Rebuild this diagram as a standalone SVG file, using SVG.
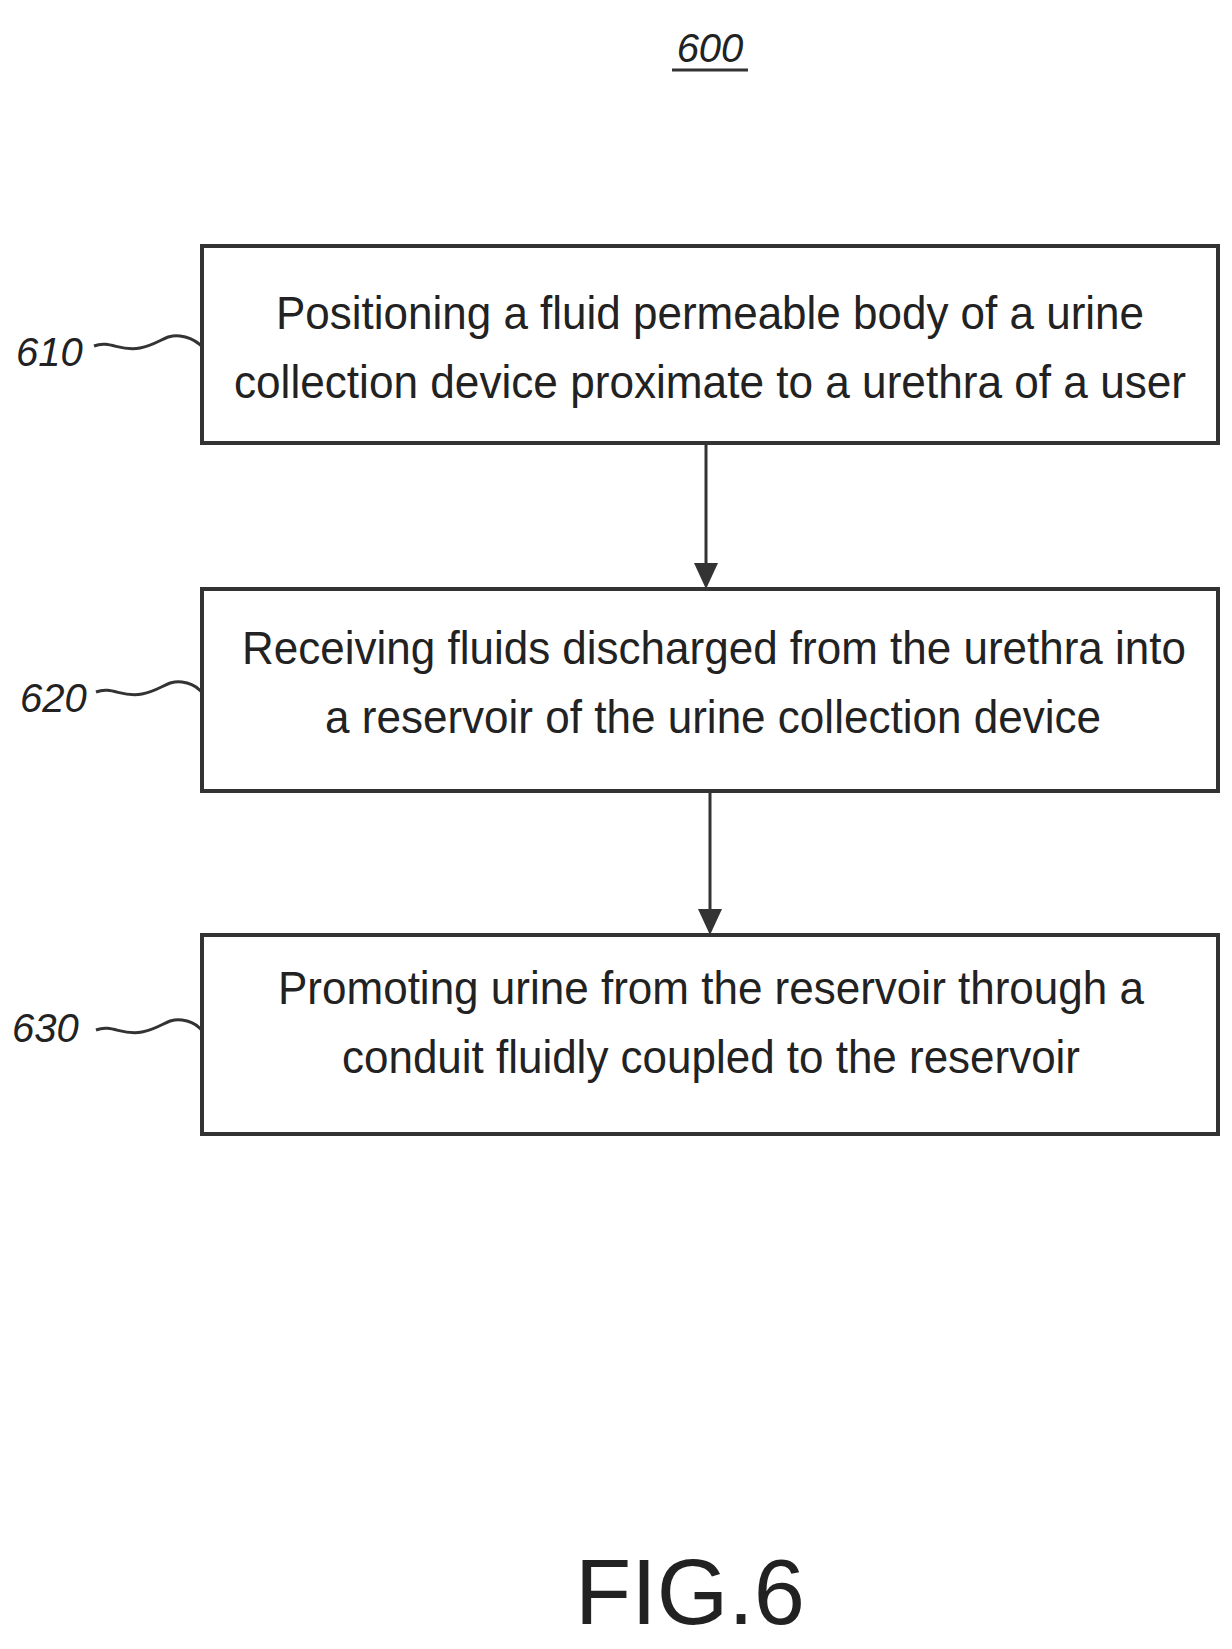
<svg xmlns="http://www.w3.org/2000/svg" width="1232" height="1649" viewBox="0 0 1232 1649">
<style>
.box{fill:#fff;stroke:#333;stroke-width:4}
.t{font-family:"Liberation Sans",Arial,sans-serif;font-size:46px;fill:#222}
.lbl{font-family:"Liberation Sans",Arial,sans-serif;font-size:40px;font-style:italic;fill:#222}
.sq{fill:none;stroke:#333;stroke-width:3}
.c{stroke:#333;stroke-width:3;fill:none}
</style>
<rect width="1232" height="1649" fill="#fff"/>
<text class="lbl" x="710" y="62" text-anchor="middle">600</text>
<line x1="672" y1="70" x2="748" y2="70" stroke="#333" stroke-width="3"/>
<g id="n610"><rect class="box" x="202" y="246" width="1016" height="197"/>
<text class="t" x="710" y="329" text-anchor="middle" textLength="868" lengthAdjust="spacingAndGlyphs">Positioning a fluid permeable body of a urine</text>
<text class="t" x="710" y="398" text-anchor="middle" textLength="952" lengthAdjust="spacingAndGlyphs">collection device proximate to a urethra of a user</text></g>
<g id="n620"><rect class="box" x="202" y="589" width="1016" height="202"/>
<text class="t" x="714" y="664" text-anchor="middle" textLength="944" lengthAdjust="spacingAndGlyphs">Receiving fluids discharged from the urethra into</text>
<text class="t" x="713" y="733" text-anchor="middle" textLength="776" lengthAdjust="spacingAndGlyphs">a reservoir of the urine collection device</text></g>
<g id="n630"><rect class="box" x="202" y="935" width="1016" height="199"/>
<text class="t" x="711" y="1004" text-anchor="middle" textLength="866" lengthAdjust="spacingAndGlyphs">Promoting urine from the reservoir through a</text>
<text class="t" x="711" y="1073" text-anchor="middle" textLength="738" lengthAdjust="spacingAndGlyphs">conduit fluidly coupled to the reservoir</text></g>
<g id="labels">
<text class="lbl" x="16" y="366">610</text>
<path class="sq" d="M94,346 C110,340 120,352 140,348 C160,344 165,334 180,336 C195,338 198,344 202,346"/>
<text class="lbl" x="20" y="712">620</text>
<path class="sq" d="M96,692 C112,686 122,698 142,694 C162,690 167,680 182,682 C197,684 198,690 202,692"/>
<text class="lbl" x="12" y="1042">630</text>
<path class="sq" d="M96,1030 C112,1024 122,1036 142,1032 C162,1028 167,1018 182,1020 C197,1022 198,1028 202,1030"/>
</g>
<g id="connectors">
<line class="c" x1="706" y1="443" x2="706" y2="565"/><path d="M694,563 L718,563 L706,589 Z" fill="#333"/>
<line class="c" x1="710" y1="791" x2="710" y2="911"/><path d="M698,909 L722,909 L710,935 Z" fill="#333"/>
</g>
<text x="690" y="1624" text-anchor="middle" font-family="Liberation Sans,Arial,sans-serif" font-size="92" fill="#222">FIG.6</text>
</svg>
